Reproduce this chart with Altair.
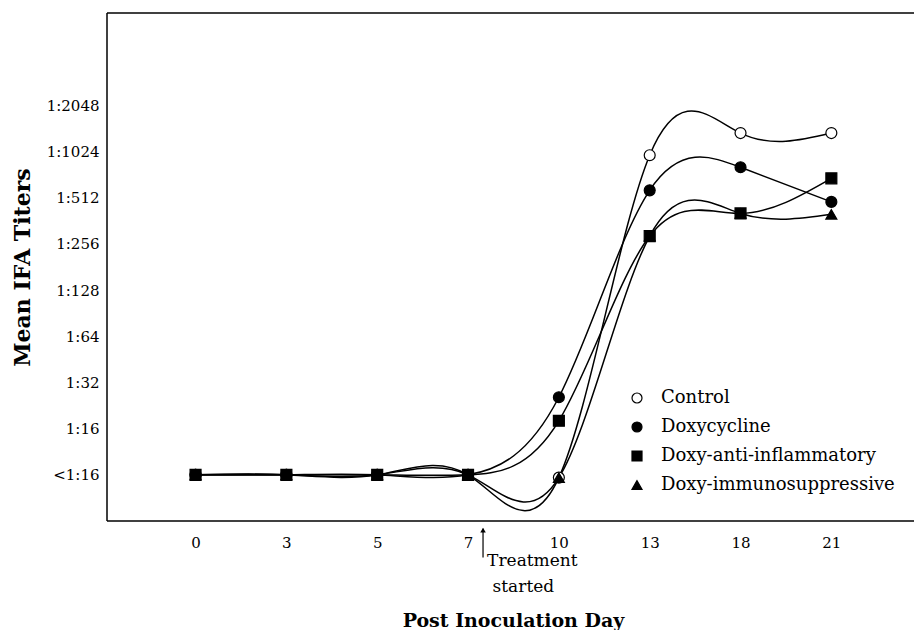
import json
import altair as alt
import pandas as pd

days = ["0", "3", "5", "7", "10", "13", "18", "21"]
titer_labels = ["<1:16", "1:16", "1:32", "1:64", "1:128", "1:256", "1:512", "1:1024", "1:2048"]

series_names = ["Control", "Doxycycline", "Doxy-anti-inflammatory", "Doxy-immunosuppressive"]
control = [0, 0, 0, 0, -0.06, 6.92, 7.4, 7.4]
doxycycline = [0, 0, 0, 0, 1.68, 6.16, 6.66, 5.91]
doxy_anti = [0, 0, 0, 0, 1.17, 5.17, 5.66, 6.42]
doxy_immuno = [0, 0, 0, 0, -0.06, 5.17, 5.66, 5.64]

# draw order (square last so it sits on top)
draw_order = [("Control", control), ("Doxycycline", doxycycline),
              ("Doxy-immunosuppressive", doxy_immuno), ("Doxy-anti-inflammatory", doxy_anti)]

rows = []
for name, vals in draw_order:
    for i, (d, v) in enumerate(zip(days, vals)):
        rows.append({"series": name, "pos": i, "day": d, "level": v})
df = pd.DataFrame(rows)

FONT = "DejaVu Serif"
xdom = [-0.975, 8.02]
ydom = [-1, 10]

treat_pos = 3.165
arrow_df = pd.DataFrame([{"pos": treat_pos, "level": -1.17, "level2": -1.79}])
head_df = pd.DataFrame([{"pos": treat_pos, "level": -1.2}])
text_df = pd.DataFrame([
    {"pos": 3.21, "level": -1.87, "t": "Treatment"},
    {"pos": 3.27, "level": -2.43, "t": "started"},
])
hframe_df = pd.DataFrame([{"level": ydom[0]}, {"level": ydom[1]}])
vframe_df = pd.DataFrame([{"pos": xdom[0]}])

xscale = alt.Scale(domain=xdom, nice=False, zero=False)
yscale = alt.Scale(domain=ydom, nice=False, zero=False)

x_label_expr = json.dumps(days) + "[datum.value]"
y_label_expr = json.dumps(titer_labels) + "[datum.value]"

x_axis = alt.Axis(values=list(range(len(days))), labelExpr=x_label_expr, orient="bottom",
                  title="Post Inoculation Day", grid=False, ticks=False, domain=False,
                  labelPadding=14, labelFont=FONT, labelFontSize=15,
                  labelColor="black", titleFont=FONT, titleFontSize=19,
                  titleFontWeight="bold", titleColor="black",
                  titleX=406, titleY=99, titleBaseline="middle")
y_axis = alt.Axis(values=list(range(len(titer_labels))), labelExpr=y_label_expr, orient="left",
                  title="Mean IFA Titers", grid=False, ticks=False, domain=False,
                  labelPadding=8, labelFont=FONT, labelFontSize=15,
                  labelColor="black", titleFont=FONT, titleFontSize=22,
                  titleFontWeight="bold", titleColor="black",
                  titleX=-85, titleY=254, titleAngle=-90,
                  titleAlign="center", titleBaseline="middle")


def X():
    return alt.X("pos:Q", scale=xscale, axis=x_axis)


def Y():
    return alt.Y("level:Q", scale=yscale, axis=y_axis)


lines = alt.Chart(df).mark_line(interpolate="natural", color="black", strokeWidth=1.5).encode(
    x=X(), y=Y(), detail="series:N", order="pos:Q")

legend_cfg = dict(title=None, orient="none", legendX=521, legendY=376,
                  labelFont=FONT, labelFontSize=18, labelColor="black",
                  labelLimit=0, symbolSize=100, symbolStrokeWidth=1.2,
                  labelOffset=15, rowPadding=11, padding=0)

points = alt.Chart(df).mark_point(filled=False, size=120, strokeWidth=1.2, stroke="black", opacity=1).encode(
    x=X(), y=Y(),
    shape=alt.Shape("series:N",
                    scale=alt.Scale(domain=series_names,
                                    range=["circle", "circle", "square", "triangle-up"]),
                    legend=alt.Legend(**legend_cfg)),
    fill=alt.Fill("series:N",
                  scale=alt.Scale(domain=series_names,
                                  range=["white", "black", "black", "black"]),
                  legend=alt.Legend(**legend_cfg)),
)

hframe = alt.Chart(hframe_df).mark_rule(color="black", strokeWidth=1.5).encode(y=Y())
vframe = alt.Chart(vframe_df).mark_rule(color="black", strokeWidth=1.5).encode(x=X())

arrow = alt.Chart(arrow_df).mark_rule(color="black", strokeWidth=1.2).encode(
    x=X(), y=Y(), y2="level2:Q")
head = alt.Chart(head_df).mark_point(shape="triangle-up", size=30, filled=True, color="black", opacity=1).encode(
    x=X(), y=Y())
texts = alt.Chart(text_df).mark_text(align="left", baseline="middle", font=FONT, fontSize=17, color="black").encode(
    x=X(), y=Y(), text="t:N")

# plot area extends a little past the right edge of the page, as in the reference
chart = alt.layer(hframe, vframe, lines, points, arrow, head, texts).properties(
    width=817, height=508,
    autosize=alt.AutoSizeParams(type="none"),
    padding={"left": 107, "top": 13, "right": -10, "bottom": 109},
    background="white",
).configure_view(strokeWidth=0, stroke="transparent").configure_axis(grid=False)

chart.save("out.html", embed_options={"renderer": "svg", "actions": False})
